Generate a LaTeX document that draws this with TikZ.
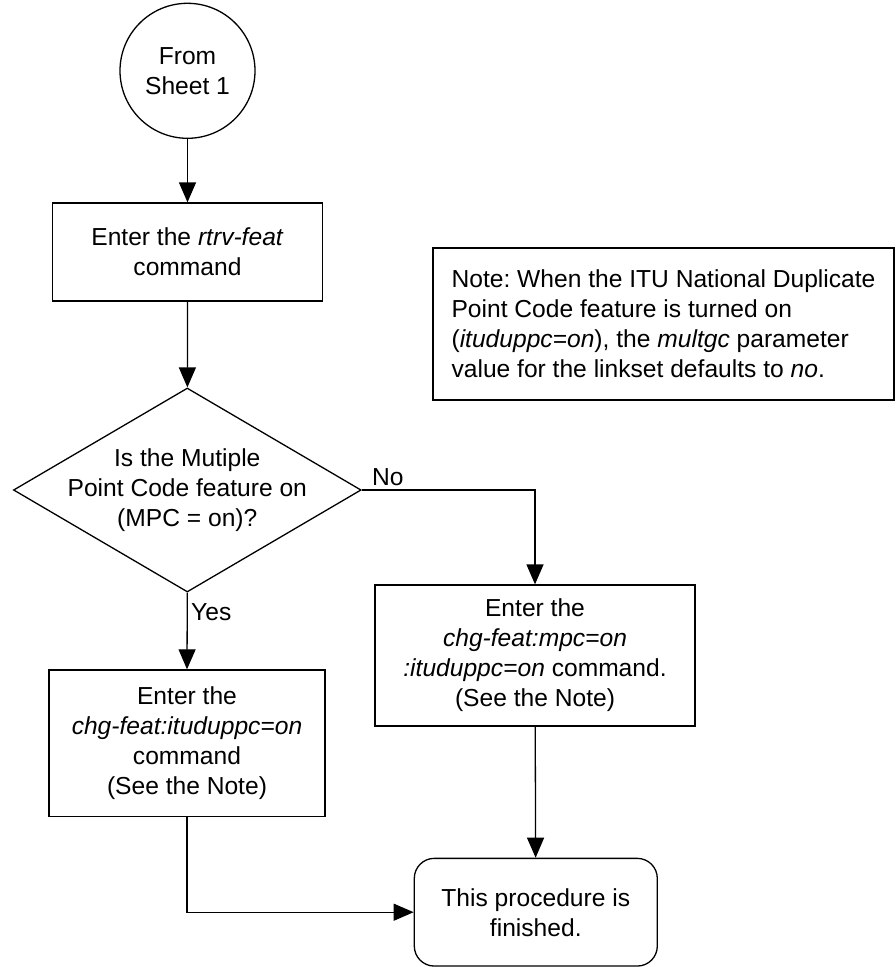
\documentclass[tikz,border=0pt]{standalone}
\usepackage{fontspec}
\setmainfont{Liberation Sans}
\frenchspacing
\usepackage{tikz}
\usetikzlibrary{shapes.geometric,arrows.meta,positioning,calc}

\tikzset{
  flowline/.style={line width=1.3pt, -{Triangle[length=20pt,width=17pt]}},
  stepbox/.style={draw, rectangle, line width=1.3pt, align=center, inner sep=0pt},
  decision/.style={draw, diamond, line width=1.3pt, inner sep=0pt,
    minimum width=347.7pt, minimum height=204pt},
  terminal/.style={draw, rectangle, rounded corners=20pt, line width=1.3pt, align=center, inner sep=0pt}
}

\begin{document}
\begin{tikzpicture}[x=1pt, y=1pt, font=\fontsize{24.6}{30}\selectfont]
\useasboundingbox (0,0) rectangle (895,-967);

\node[draw, circle, line width=1.3pt, minimum size=135pt, inner sep=0pt, align=center] (sheet) at (187.5,-70.8) {From\\Sheet 1};
\node[stepbox, minimum width=270.4pt, minimum height=98pt] (rtrv) at (187.5,-252) {Enter the \textit{rtrv-feat}\\command};
\node[decision] (mpc) at (187.3,-490) {};
\node[align=center] (mpcq) at (mpc) {Is the Mutiple\\Point Code feature on\\(MPC = on)?};
\node[stepbox, align=left, minimum width=461pt, minimum height=152pt] (note) at (663.5,-324)
  {Note: When the ITU National Duplicate\\Point Code feature is turned on\\(\textit{ituduppc=on}), the \textit{multgc} parameter\\value for the linkset defaults to \textit{no}.};
\node[stepbox, minimum width=276pt, minimum height=146.7pt] (itpc) at (187,-743.3)
  {Enter the\\\textit{chg-feat:ituduppc=on}\\command\\(See the Note)};
\node[stepbox, minimum width=320pt, minimum height=141pt] (mpcon) at (535,-655.5)
  {Enter the\\\textit{chg-feat:mpc=on}\\\textit{:ituduppc=on} command.\\(See the Note)};
\node[terminal, minimum width=243pt, minimum height=107.7pt] (done) at (535.8,-912.2) {This procedure is\\finished.};

\draw[flowline] (sheet) -- (rtrv);
\draw[flowline] (rtrv) -- (mpc);
\draw[flowline] (mpc.east) -| node[pos=0.075, above] (nolbl) {No} (mpcon.north);
\draw[flowline] (mpc.south) -- node[pos=0.25, right] (yeslbl) {Yes} (itpc.north);
\draw[flowline] (mpcon) -- (done);
\draw[flowline] (itpc.south) |- (done.west);
\end{tikzpicture}
\end{document}
